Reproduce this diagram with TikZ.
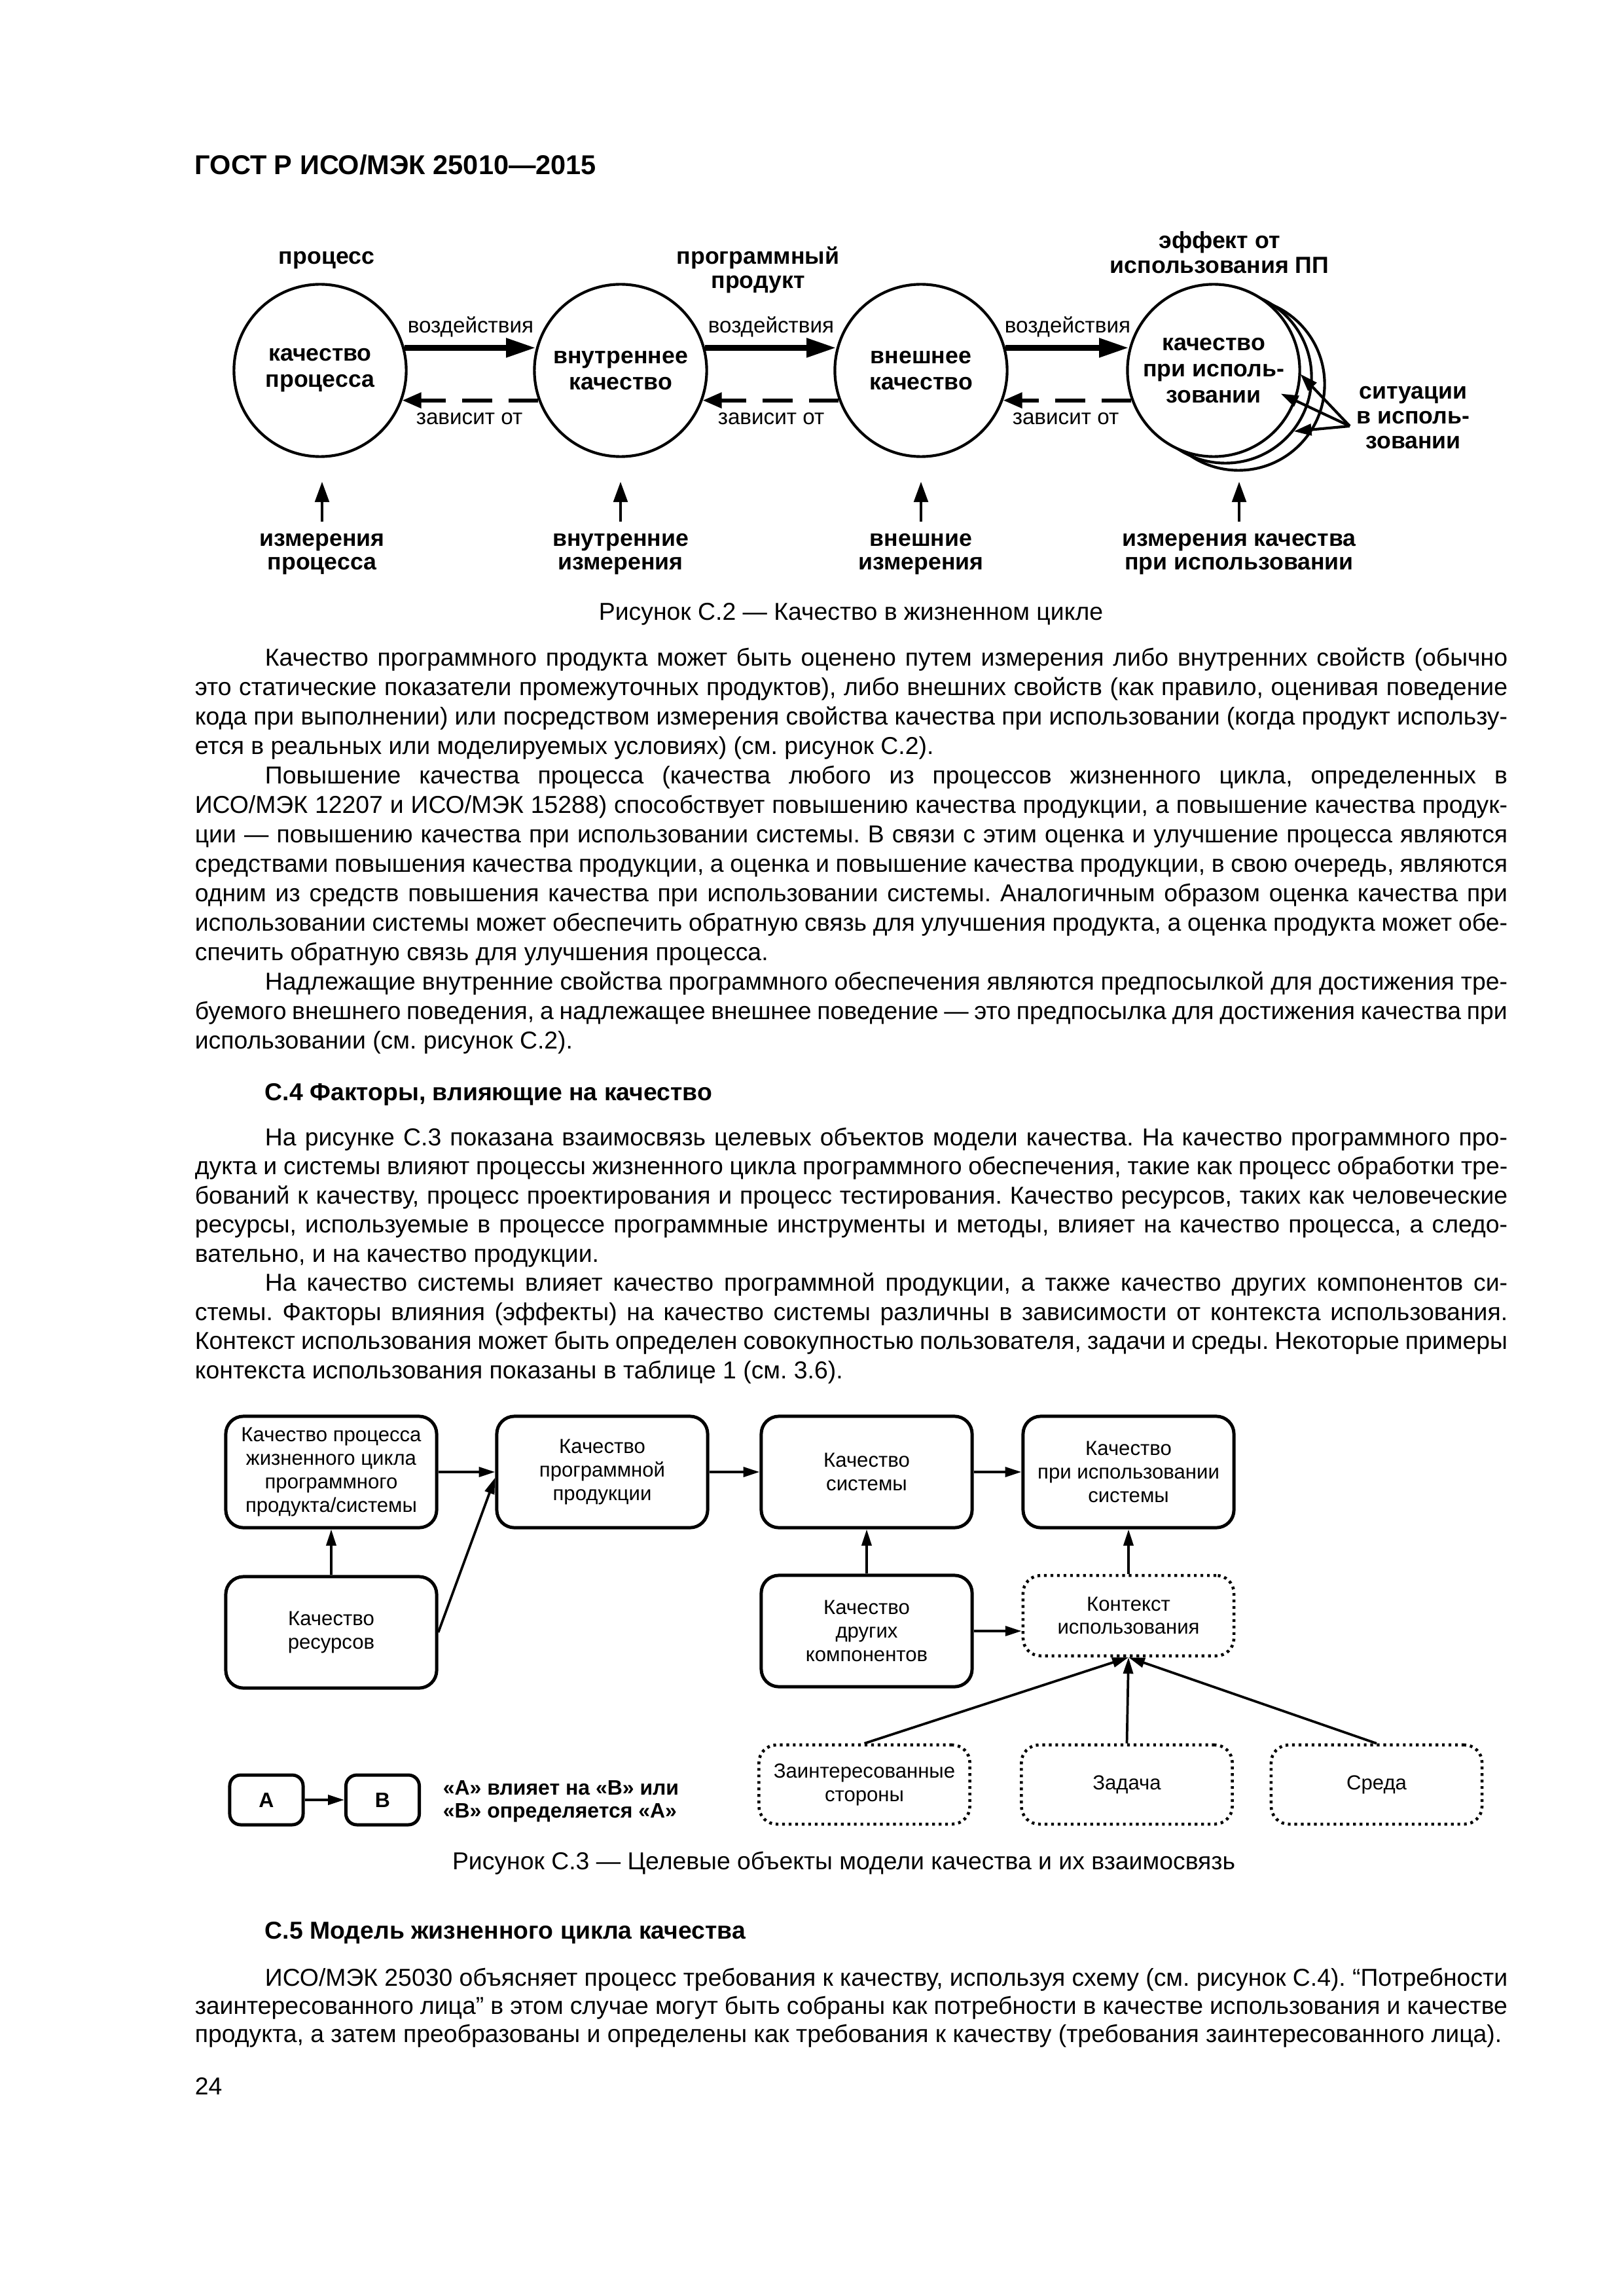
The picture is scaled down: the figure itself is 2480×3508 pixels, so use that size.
\documentclass[tikz,border=0pt]{standalone}
\usepackage{fontspec}
\setmainfont{Liberation Sans}
\usetikzlibrary{arrows.meta}
\newcommand{\myfs}[2]{\fontsize{#1}{#2}\selectfont}
\newcommand{\parsetup}[1]{\myfs{9pt}{#1}\frenchspacing\hyphenpenalty=10000 \exhyphenpenalty=10000 \tolerance=9999 \emergencystretch=0pt \setlength{\parindent}{25.8pt}}
\begin{document}
\begin{tikzpicture}[x=0.24088pt,y=-0.24088pt,
  circ/.style={circle, draw, line width=1pt, fill=white, minimum size=63.4pt, inner sep=0pt, align=center, font=\myfs{8.6pt}{9.6pt}\bfseries},
  lblb/.style={anchor=base, inner sep=0pt, font=\myfs{8.6pt}{9pt}\bfseries},
  lblr/.style={anchor=base, inner sep=0pt, font=\myfs{8pt}{9pt}},
  bigarrow/.style={line width=2.2pt, -{Triangle[length=11pt,width=6.6pt]}},
  dasharrow/.style={line width=1.4pt, dash pattern=on 11pt off 6pt, -{Triangle[length=7pt,width=5.6pt]}},
  measarrow/.style={line width=0.9pt, -{Triangle[length=7.5pt,width=5.2pt]}, shorten <=4pt},
  sitarrow/.style={line width=1pt, -{Triangle[length=6.5pt,width=4.2pt]}},
  qbox/.style={draw, line width=1.2pt, rounded corners=6.5pt, minimum width=77.6pt, minimum height=41pt, inner sep=0pt, align=center, font=\myfs{7.5pt}{8.6pt}},
  dbox/.style={qbox, dash pattern=on 1pt off 1.4pt, line width=1.1pt},
  conn/.style={line width=0.9pt, -{Triangle[length=6pt,width=3.6pt]}},
  para/.style={anchor=base west, inner sep=0pt},
  capt/.style={anchor=base, inner sep=0pt, font=\myfs{9pt}{11pt}},
  head/.style={anchor=base west, inner sep=0pt, font=\myfs{9pt}{11pt}\bfseries}
]
\fill[white] (0,0) rectangle (2480,3508);
\useasboundingbox (0,0) rectangle (2480,3508);

% header
\node[anchor=base west, inner sep=0pt, font=\myfs{10pt}{12pt}\bfseries] (hdr) at (297,267) {ГОСТ Р ИСО/МЭК 25010—2015};

% ---------- Figure C.2 ----------
\node[circ] (c1) at (489,566) {качество\\процесса};
\node[circ] (c2) at (948,566) {внутреннее\\качество};
\node[circ] (c3) at (1407,566) {внешнее\\качество};
\node[circ] (c4c) at (1892,587) {};
\node[circ] (c4b) at (1872,576) {};
\node[circ] (c4) at (1854,566) {качество\\при исполь-\\зовании};

\draw[bigarrow] (c1.15) -- (c2.165);
\draw[bigarrow] (c2.15) -- (c3.165);
\draw[bigarrow] (c3.15) -- (c4.165);
\draw[dasharrow] (c2.200) -- (c1.-20);
\draw[dasharrow] (c3.200) -- (c2.-20);
\draw[dasharrow] (c4.200) -- (c3.-20);

\node[lblr] (v1) at (719,509) {воздействия};
\node[lblr] (v2) at (1178,509) {воздействия};
\node[lblr] (v3) at (1631,509) {воздействия};
\node[lblr] (z1) at (717,648.5) {зависит от};
\node[lblr] (z2) at (1178,648.5) {зависит от};
\node[lblr] (z3) at (1628,648.5) {зависит от};

\node[lblb] (tp) at (499,404) {процесс};
\node[lblb] (tpp1) at (1158,404) {программный};
\node[lblb] (tpp2) at (1158,441) {продукт};
\node[lblb] (te1) at (1863,380) {эффект от};
\node[lblb] (te2) at (1863,418) {использования ПП};

\node[lblb] (s1) at (2159,610) {ситуации};
\node[lblb] (s2) at (2159,648) {в исполь-};
\node[lblb] (s3) at (2159,686) {зовании};
\coordinate (sitsrc) at (2062,651);
\coordinate (sit1) at (1986.5,571.5);
\coordinate (sit2) at (1956.5,601.5);
\coordinate (sit3) at (1976.5,659);
\draw[sitarrow] (sitsrc) -- (sit1);
\draw[sitarrow] (sitsrc) -- (sit2);
\draw[sitarrow] (sitsrc) -- (sit3);

\node[lblb] (m1a) at (492,834) {измерения};
\node[lblb] (m1b) at (492,870) {процесса};
\node[lblb] (m2a) at (948,834) {внутренние};
\node[lblb] (m2b) at (948,870) {измерения};
\node[lblb] (m3a) at (1407,834) {внешние};
\node[lblb] (m3b) at (1407,870) {измерения};
\node[lblb] (m4a) at (1893,834) {измерения качества};
\node[lblb] (m4b) at (1893,870) {при использовании};
\coordinate (mt1) at (492,736);
\coordinate (mt2) at (948,736);
\coordinate (mt3) at (1407,736);
\coordinate (mt4) at (1893,736);
\draw[measarrow] (m1a.north) -- (mt1);
\draw[measarrow] (m2a.north) -- (mt2);
\draw[measarrow] (m3a.north) -- (mt3);
\draw[measarrow] (m4a.north) -- (mt4);

\node[capt] (cap2) at (1300,947) {Рисунок С.2 — Качество в жизненном цикле};

% ---------- text block 1 ----------
\node[para] (p1) at (297,1017) {\parbox[t]{483pt}{\parsetup{10.84pt}%
Качество программного продукта может быть оценено путем измерения либо внутренних свойств (обычно\linebreak
это статические показатели промежуточных продуктов), либо внешних свойств (как правило, оценивая поведение\linebreak
кода при выполнении) или посредством измерения свойства качества при использовании (когда продукт использу-\linebreak
ется в реальных или моделируемых условиях) (см. рисунок С.2).\par
Повышение качества процесса (качества любого из процессов жизненного цикла, определенных в\linebreak
ИСО/МЭК 12207 и ИСО/МЭК 15288) способствует повышению качества продукции, а повышение качества продук-\linebreak
ции — повышению качества при использовании системы. В связи с этим оценка и улучшение процесса являются\linebreak
средствами повышения качества продукции, а оценка и повышение качества продукции, в свою очередь, являются\linebreak
одним из средств повышения качества при использовании системы. Аналогичным образом оценка качества при\linebreak
использовании системы может обеспечить обратную связь для улучшения продукта, а оценка продукта может обе-\linebreak
спечить обратную связь для улучшения процесса.\par
Надлежащие внутренние свойства программного обеспечения являются предпосылкой для достижения тре-\linebreak
буемого внешнего поведения, а надлежащее внешнее поведение — это предпосылка для достижения качества при\linebreak
использовании (см. рисунок С.2).}};

\node[head] (h4) at (404,1681) {С.4 Факторы, влияющие на качество};

\node[para] (p2) at (297,1750) {\parbox[t]{483pt}{\parsetup{10.72pt}%
На рисунке С.3 показана взаимосвязь целевых объектов модели качества. На качество программного про-\linebreak
дукта и системы влияют процессы жизненного цикла программного обеспечения, такие как процесс обработки тре-\linebreak
бований к качеству, процесс проектирования и процесс тестирования. Качество ресурсов, таких как человеческие\linebreak
ресурсы, используемые в процессе программные инструменты и методы, влияет на качество процесса, а следо-\linebreak
вательно, и на качество продукции.\par
На качество системы влияет качество программной продукции, а также качество других компонентов си-\linebreak
стемы. Факторы влияния (эффекты) на качество системы различны в зависимости от контекста использования.\linebreak
Контекст использования может быть определен совокупностью пользователя, задачи и среды. Некоторые примеры\linebreak
контекста использования показаны в таблице 1 (см. 3.6).}};

% ---------- Figure C.3 ----------
\node[qbox] (b1) at (506,2249) {Качество процесса\\жизненного цикла\\программного\\продукта/системы};
\node[qbox] (b2) at (920,2249) {Качество\\программной\\продукции};
\node[qbox] (b3) at (1324,2249) {Качество\\системы};
\node[qbox] (b4) at (1724,2249) {Качество\\при использовании\\системы};
\node[qbox] (res) at (506,2494) {Качество\\ресурсов};
\node[qbox] (oc) at (1324,2492) {Качество\\других\\компонентов};
\node[dbox, minimum height=29.6pt] (ctx) at (1724,2468.5) {Контекст\\использования};
\node[dbox, minimum height=29.15pt] (st) at (1320.5,2726.5) {Заинтересованные\\стороны};
\node[dbox, minimum height=29.15pt] (task) at (1721.5,2726.5) {Задача};
\node[dbox, minimum height=29.15pt] (env) at (2103,2726.5) {Среда};

\draw[conn] (b1) -- (b2);
\draw[conn] (b2) -- (b3);
\draw[conn] (b3) -- (b4);
\draw[conn] (res) -- (b1);
\draw[conn] (res.east) -- (b2.183);
\draw[conn] (oc) -- (b3);
\draw[conn] (ctx) -- (b4);
\draw[conn] (oc.east) -- (oc.east -| ctx.west);
\draw[conn] (st.north) -- (ctx.south);
\draw[conn] (task.north) -- (ctx.south);
\draw[conn] (env.north) -- (ctx.south);

\node[qbox, minimum width=27pt, minimum height=18.3pt, rounded corners=4pt, font=\myfs{7.7pt}{9pt}\bfseries] (bA) at (407,2750) {А};
\node[qbox, minimum width=27pt, minimum height=18.3pt, rounded corners=4pt, font=\myfs{7.7pt}{9pt}\bfseries] (bB) at (584.5,2750) {В};
\draw[conn] (bA) -- (bB);
\node[anchor=base west, inner sep=0pt, font=\myfs{7.7pt}{9pt}\bfseries] (lg1) at (676,2742) {«А» влияет на «В» или};
\node[anchor=base west, inner sep=0pt, font=\myfs{7.7pt}{9pt}\bfseries] (lg2) at (676,2777) {«В» определяется «А»};

\node[capt] (cap3) at (1289,2856) {Рисунок С.3 — Целевые объекты модели качества и их взаимосвязь};

% ---------- text block 3 ----------
\node[head] (h5) at (404,2962) {С.5 Модель жизненного цикла качества};

\node[para] (p3) at (297,3034) {\parbox[t]{483pt}{\parsetup{10.36pt}%
ИСО/МЭК 25030 объясняет процесс требования к качеству, используя схему (см. рисунок С.4). “Потребности\linebreak
заинтересованного лица” в этом случае могут быть собраны как потребности в качестве использования и качестве\linebreak
продукта, а затем преобразованы и определены как требования к качеству (требования заинтересованного лица).}};

\node[anchor=base west, inner sep=0pt, font=\myfs{9pt}{11pt}] (pg) at (297,3200) {24};
\end{tikzpicture}
\end{document}
